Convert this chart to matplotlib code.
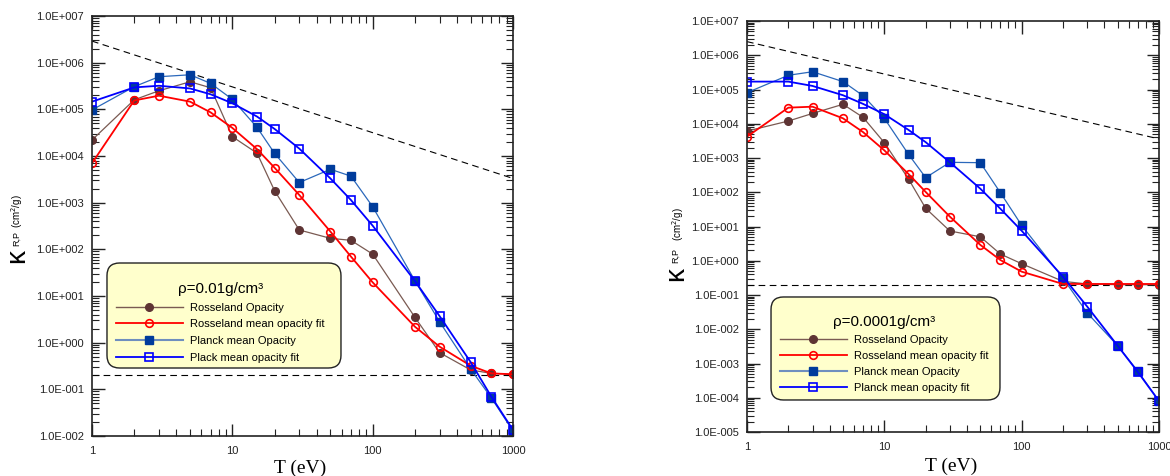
import matplotlib
matplotlib.use('Agg')
import math
import matplotlib.pyplot as plt
from matplotlib.lines import Line2D
from matplotlib.patches import FancyBboxPatch
from matplotlib.ticker import FuncFormatter, LogLocator, NullFormatter

plt.rcParams['font.family'] = ['Liberation Sans', 'DejaVu Sans']

# temperature grid (eV)
T = [1, 2, 3, 5, 7, 10, 15, 20, 30, 50, 70, 100, 200, 300, 500, 700, 1000]

# rho = 0.01 g/cm3
ross_1 = [2.2e4, 1.6e5, 2.5e5, 3.9e5, 2.9e5, 2.6e4, 1.15e4, 1.8e3, 260, 172, 156, 79, 3.5, 0.61, 0.26, 0.22, 0.21]
rossfit_1 = [7.0e3, 1.55e5, 1.96e5, 1.46e5, 8.6e4, 4.0e4, 1.4e4, 5.6e3, 1.46e3, 240, 70, 19.6, 2.2, 0.82, 0.32, 0.22, 0.21]
planck_1 = [9.7e4, 3.06e5, 5.0e5, 5.5e5, 3.6e5, 1.64e5, 4.1e4, 1.14e4, 2.7e3, 5.2e3, 3.7e3, 820, 21.3, 2.8, 0.27, 0.066, 0.0128]
planckfit_1 = [1.46e5, 2.95e5, 3.2e5, 2.8e5, 2.1e5, 1.35e5, 7.0e4, 3.8e4, 1.44e4, 3.3e3, 1.14e3, 321, 21, 3.7, 0.38, 0.07, 0.0135]
upper_1 = [2.9e6, 3.3e3]
lower_1 = [0.2, 0.2]

# rho = 0.0001 g/cm3
ross_2 = [6.1e3, 1.2e4, 2.0e4, 3.7e4, 1.54e4, 2.8e3, 244, 34, 7.4, 5.0, 1.57, 0.82, 0.25, 0.21, 0.2, 0.2, 0.2]
rossfit_2 = [4.2e3, 2.95e4, 3.15e4, 1.44e4, 5.7e3, 1.67e3, 341, 102, 19.4, 2.9, 1.05, 0.48, 0.21, 0.21, 0.21, 0.21, 0.21]
planck_2 = [8.1e4, 2.6e5, 3.3e5, 1.7e5, 6.6e4, 1.44e4, 1.28e3, 267, 747, 730, 97, 10.8, 0.31, 0.030, 0.0033, 6.0e-4, 8.0e-5]
planckfit_2 = [1.7e5, 1.7e5, 1.27e5, 6.8e4, 3.8e4, 1.9e4, 6.6e3, 2.9e3, 750, 127, 33, 7.5, 0.34, 0.046, 0.0033, 5.7e-4, 8.0e-5]
upper_2 = [2.5e6, 3.6e3]
lower_2 = [0.2, 0.2]

T_ends = [1, 1000]

labels_1 = ['Rosseland Opacity', 'Rosseland mean opacity fit', 'Planck mean Opacity', 'Plack mean opacity fit']
labels_2 = ['Rosseland Opacity', 'Rosseland mean opacity fit', 'Planck mean Opacity', 'Planck mean opacity fit']

BROWN = '#5e3434'
BROWN_L = '#7a5a52'
RED = '#ff0000'
NAVY = '#003c9c'
NAVY_L = '#2b68bb'
BLUE = '#0000ff'

W, H = 1170, 476


def sci(v, pos):
    e = int(round(math.log10(v)))
    return '1.0E' + format(e, '+04d')


def style_axis(ax, ylim):
    ax.set_xscale('log')
    ax.set_yscale('log')
    ax.set_xlim(1, 1000)
    ax.set_ylim(*ylim)
    ax.yaxis.set_major_locator(LogLocator(base=10, numticks=20))
    ax.yaxis.set_minor_locator(LogLocator(base=10, subs=range(2, 10), numticks=20))
    ax.yaxis.set_major_formatter(FuncFormatter(sci))
    ax.yaxis.set_minor_formatter(NullFormatter())
    ax.xaxis.set_major_formatter(FuncFormatter(lambda v, p: '%d' % round(v)))
    ax.xaxis.set_minor_formatter(NullFormatter())
    ax.tick_params(which='both', direction='in', top=True, right=True, labelsize=8,
                   color='#222222', labelcolor='#222222')
    ax.tick_params(which='major', length=9, width=1.0)
    ax.tick_params(which='minor', length=5, width=0.8)
    ax.tick_params(axis='y', pad=6)
    ax.tick_params(axis='x', pad=7)
    for s in ax.spines.values():
        s.set_linewidth(1.2)
        s.set_color('#222222')


def draw(ax, ross, rossfit, planck, planckfit, upper, lower):
    ax.plot(T_ends, upper, ls=(0, (6, 4)), color='k', lw=0.8)
    ax.plot(T_ends, lower, ls=(0, (6, 4)), color='k', lw=0.8)
    ax.plot(T, ross, color=BROWN_L, lw=0.9, marker='o', ms=5.5, mfc=BROWN, mec=BROWN)
    ax.plot(T, planck, color=NAVY_L, lw=0.9, marker='s', ms=5.5, mfc=NAVY, mec=NAVY)
    ax.plot(T, rossfit, color=RED, lw=1.3, marker='o', ms=5.5, mfc='none', mec=RED, mew=1.2)
    ax.plot(T, planckfit, color=BLUE, lw=1.3, marker='s', ms=5.5, mfc='none', mec=BLUE, mew=1.2)


def add_legend(ax, title, labels, box, anchor, spacing):
    # box in axes fraction: x0, y0, x1, y1
    x0, y0, x1, y1 = box
    frame = FancyBboxPatch((x0, y0), x1 - x0, y1 - y0, boxstyle='round,pad=0,rounding_size=0.03',
                           transform=ax.transAxes, fc='#ffffcc', ec='#222222', lw=1.0, zorder=4)
    ax.add_patch(frame)
    handles = [
        Line2D([], [], color=BROWN_L, lw=1.0, marker='o', ms=5.5, mfc=BROWN, mec=BROWN),
        Line2D([], [], color=RED, lw=1.3, marker='o', ms=5.5, mfc='none', mec=RED, mew=1.2),
        Line2D([], [], color='#6f8fbf', lw=1.5, marker='s', ms=5.5, mfc=NAVY, mec=NAVY),
        Line2D([], [], color=BLUE, lw=1.3, marker='s', ms=5.5, mfc='none', mec=BLUE, mew=1.2),
    ]
    leg = ax.legend(handles, labels, title=title, title_fontsize=11, fontsize=8,
                    loc='upper left', bbox_to_anchor=anchor, handlelength=6,
                    handletextpad=0.7, borderpad=0, borderaxespad=0,
                    labelspacing=spacing, frameon=False, numpoints=1)
    leg.set_zorder(5)
    return leg


def ylabel(xk, yk, xs, ys, xc, yc):
    fig.text(xk / W, 1 - yk / H, 'κ', rotation=90, fontsize=20, ha='center', va='bottom')
    fig.text(xs / W, 1 - ys / H, 'R,P', rotation=90, fontsize=6.5, ha='center', va='bottom')
    fig.text(xc / W, 1 - yc / H, '(cm$^{2}$/g)', rotation=90, fontsize=7, ha='center', va='bottom')


fig = plt.figure(figsize=(11.7, 4.76), dpi=100)

ax1 = fig.add_axes([92 / W, 1 - 436 / H, 421 / W, 420 / H])
style_axis(ax1, (1e-2, 1e7))
draw(ax1, ross_1, rossfit_1, planck_1, planckfit_1, upper_1, lower_1)
add_legend(ax1, 'ρ=0.01g/cm³', labels_1, (0.0356, 0.1619, 0.5914, 0.4119), (0.057, 0.367), 0.6)
ylabel(17, 263, 17, 246, 17, 228)
fig.text(300 / W, 1 - 468 / H, 'T (eV)', fontsize=14, family='Liberation Serif', ha='center', va='center')

ax2 = fig.add_axes([747 / W, 1 - 432 / H, 412 / W, 411 / H])
style_axis(ax2, (1e-5, 1e7))
draw(ax2, ross_2, rossfit_2, planck_2, planckfit_2, upper_2, lower_2)
add_legend(ax2, 'ρ=0.0001g/cm³', labels_2, (0.0583, 0.0779, 0.614, 0.3285), (0.0801, 0.2846), 0.54)
ylabel(676, 281, 676, 263, 678, 241)
fig.text(951 / W, 1 - 466 / H, 'T (eV)', fontsize=14, family='Liberation Serif', ha='center', va='center')

fig.savefig('out.png', dpi=100)
